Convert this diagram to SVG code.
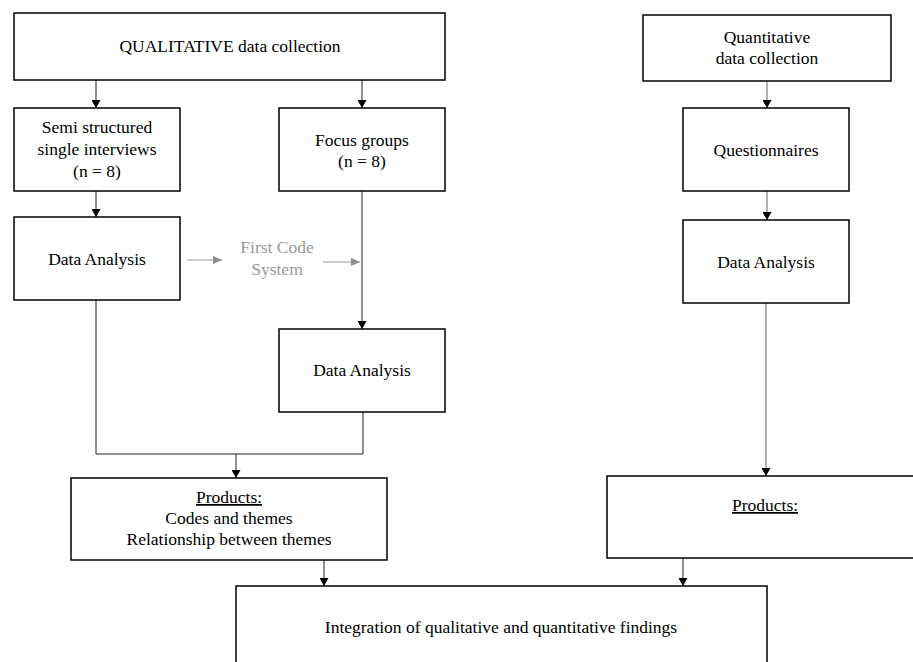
<svg xmlns="http://www.w3.org/2000/svg" width="913" height="662" viewBox="0 0 913 662">
<defs>
<marker id="ah" markerWidth="8" markerHeight="9" refX="8" refY="4.5" orient="auto" markerUnits="userSpaceOnUse"><path d="M0,0 L8,4.5 L0,9 Z" fill="#000"/></marker>
<marker id="ahg" markerWidth="9" markerHeight="8" refX="9" refY="4" orient="auto" markerUnits="userSpaceOnUse"><path d="M0,0 L9,4 L0,8 Z" fill="#8c8c8c"/></marker>
</defs>
<style>
.box{fill:#fff;stroke:#000;stroke-width:1.5}
.t{font-family:"Liberation Serif","Times New Roman",serif;font-size:17.5px;fill:#000;text-anchor:middle}
.g{fill:#999}
.c{fill:none;stroke:#222;stroke-width:1}
.cg{fill:none;stroke:#999;stroke-width:1.5}
.cl{fill:none;stroke:#999;stroke-width:1.2}
</style>
<rect width="913" height="662" fill="#fff"/>
<g id="connectors">
<line class="c" x1="96" y1="80" x2="96" y2="108" marker-end="url(#ah)"/>
<line class="c" x1="362" y1="80" x2="362" y2="108" marker-end="url(#ah)"/>
<line class="c" x1="96" y1="191" x2="96" y2="217" marker-end="url(#ah)"/>
<line class="c" x1="362" y1="191" x2="362" y2="329" marker-end="url(#ah)"/>
<line class="cl" x1="187" y1="260" x2="222" y2="260" marker-end="url(#ahg)"/>
<line class="cl" x1="323" y1="262" x2="360" y2="262" marker-end="url(#ahg)"/>
<polyline class="c" points="96,300 96,454 363,454 363,412"/>
<line class="c" x1="236" y1="454" x2="236" y2="478" marker-end="url(#ah)"/>
<line class="cg" x1="767" y1="81" x2="767" y2="108" marker-end="url(#ah)"/>
<line class="cg" x1="767" y1="191" x2="767" y2="220" marker-end="url(#ah)"/>
<line class="cg" x1="766" y1="303" x2="766" y2="476" marker-end="url(#ah)"/>
<line class="c" x1="324" y1="560" x2="324" y2="586" marker-end="url(#ah)"/>
<line class="c" x1="683" y1="558" x2="683" y2="586" marker-end="url(#ah)"/>
</g>
<g id="qual-collection"><rect class="box" x="14" y="13" width="431" height="67"/><text class="t" x="230" y="52">QUALITATIVE data collection</text></g>
<g id="interviews"><rect class="box" x="14" y="108" width="166" height="83"/><text class="t" x="97" y="133">Semi structured</text><text class="t" x="97" y="155">single interviews</text><text class="t" x="97" y="177">(n = 8)</text></g>
<g id="focus"><rect class="box" x="279" y="108" width="166" height="83"/><text class="t" x="362" y="146">Focus groups</text><text class="t" x="362" y="167">(n = 8)</text></g>
<g id="analysis1"><rect class="box" x="14" y="217" width="166" height="83"/><text class="t" x="97" y="265">Data Analysis</text></g>
<g id="first-code"><text class="t g" x="277" y="253">First Code</text><text class="t g" x="277" y="275">System</text></g>
<g id="analysis2"><rect class="box" x="279" y="329" width="166" height="83"/><text class="t" x="362" y="376">Data Analysis</text></g>
<g id="products-qual"><rect class="box" x="71" y="478" width="316" height="82"/><text class="t" x="229" y="503" text-decoration="underline">Products:</text><text class="t" x="229" y="524">Codes and themes</text><text class="t" x="229" y="545">Relationship between themes</text></g>
<g id="quant-collection"><rect class="box" x="643" y="15" width="248" height="66"/><text class="t" x="767" y="43">Quantitative</text><text class="t" x="767" y="64">data collection</text></g>
<g id="questionnaires"><rect class="box" x="683" y="108" width="166" height="83"/><text class="t" x="766" y="156">Questionnaires</text></g>
<g id="analysis3"><rect class="box" x="683" y="220" width="166" height="83"/><text class="t" x="766" y="268">Data Analysis</text></g>
<g id="products-quant"><rect class="box" x="607" y="476" width="310" height="82"/><text class="t" x="765" y="511" text-decoration="underline">Products:</text></g>
<g id="integration"><rect class="box" x="236" y="586" width="531" height="90"/><text class="t" x="501" y="633">Integration of qualitative and quantitative findings</text></g>
</svg>
